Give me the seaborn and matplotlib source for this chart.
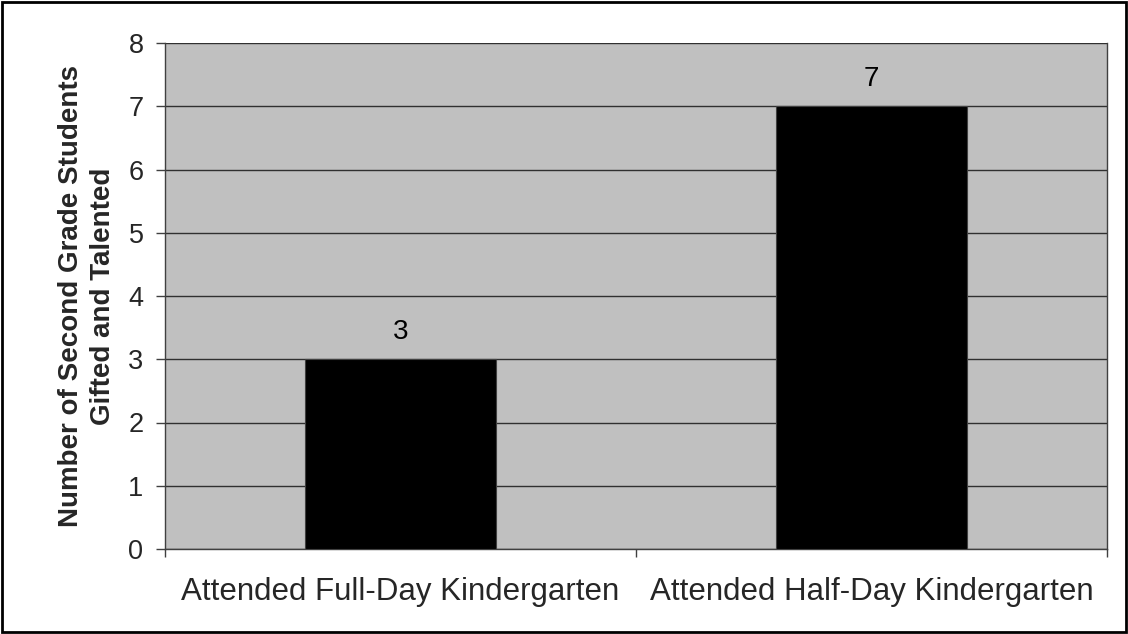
import matplotlib
matplotlib.use("Agg")
import matplotlib.pyplot as plt
from matplotlib.patches import Rectangle
import seaborn as sns
import pandas as pd

categories = ["Attended Full-Day Kindergarten", "Attended Half-Day Kindergarten"]
students = [3, 7]
y_ticks = [0, 1, 2, 3, 4, 5, 6, 7, 8]
y_label = "Number of Second Grade Students\nGifted and Talented"

sns.set_theme(style="white")
plt.rcParams["font.family"] = ["Liberation Sans", "DejaVu Sans"]

df = pd.DataFrame({"group": categories, "count": students})

fig = plt.figure(figsize=(11.28, 6.34), dpi=100)
ax = fig.add_axes([165 / 1128, 1 - 549 / 634, (1107 - 165) / 1128, (549 - 43) / 634])
ax.set_facecolor("#C0C0C0")

sns.barplot(data=df, x="group", y="count", color="black", width=0.405,
            edgecolor="#404040", linewidth=0.8, saturation=1, ax=ax, zorder=3)

ax.set_xlim(-0.5, 1.5)
ax.set_ylim(0, 8)
ax.set_yticks(y_ticks)
ax.set_yticklabels([str(t) for t in y_ticks], fontsize=19.5)
for t in y_ticks:
    ax.axhline(t, color="#303030", linewidth=1.0, zorder=1)

ax.set_xticks([-0.5, 0.5, 1.5], minor=False)
ax.set_xticklabels([])
ax.set_xticks([0, 1], minor=True)
ax.set_xticklabels(categories, minor=True, fontsize=22.5)
ax.tick_params(axis="x", which="major", direction="out", length=6, width=1, color="#404040", bottom=True)
ax.tick_params(axis="x", which="minor", length=0, pad=20.5)
ax.tick_params(axis="y", direction="out", length=6.5, width=1, color="#404040", left=True, pad=9)

ax.set_xlabel("")
ax.set_ylabel(y_label, fontsize=20, fontweight="bold", labelpad=9, linespacing=1.3)

for side in ["left", "bottom", "right"]:
    ax.spines[side].set_visible(True)
    ax.spines[side].set_color("#404040")
    ax.spines[side].set_linewidth(1.0)
ax.spines["top"].set_visible(False)

for i, v in enumerate(students):
    ax.annotate(str(v), (i, v), xytext=(0, 10), textcoords="offset points",
                ha="center", va="bottom", fontsize=20, color="black")

fig.patches.append(Rectangle((0.002, 0.003), 0.996, 0.994, transform=fig.transFigure,
                             fill=False, edgecolor="black", linewidth=2))

fig.savefig("out.png", dpi=100)
